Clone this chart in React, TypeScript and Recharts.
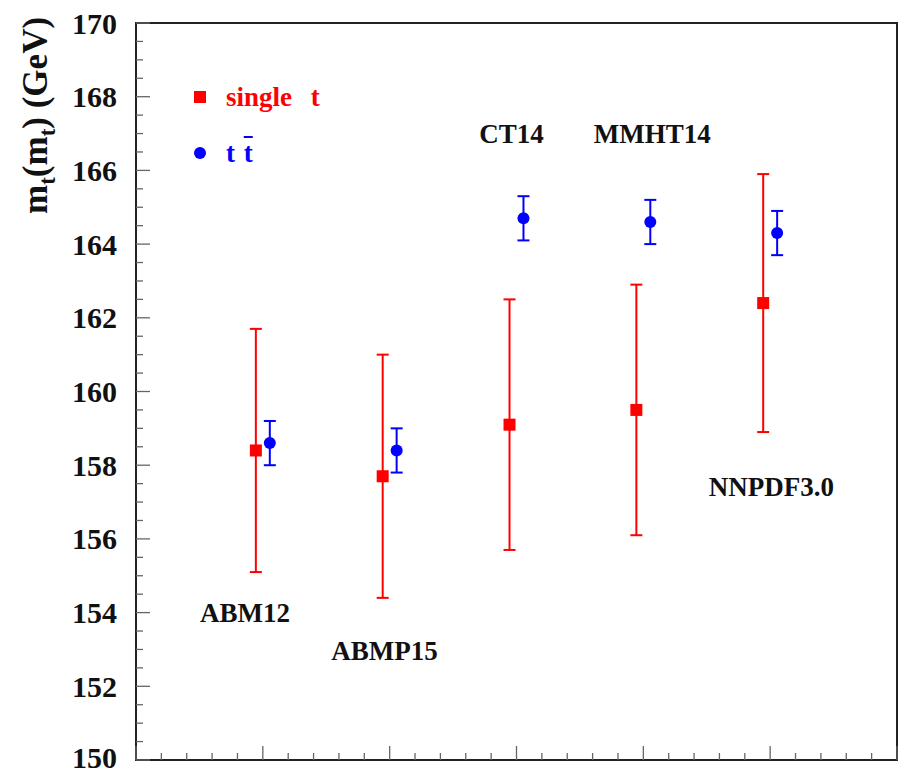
import React from 'react';
import { ComposedChart, Scatter, XAxis, YAxis, ErrorBar, ReferenceArea, Legend } from 'recharts';

const categories = ['ABM12', 'ABMP15', 'CT14', 'MMHT14', 'NNPDF3.0'];
const categoryPos = [1, 2, 3, 4, 5];

const singleTop = [158.4, 157.7, 159.1, 159.5, 162.4];
const singleTopLow = [155.1, 154.4, 155.7, 156.1, 158.9];
const singleTopHigh = [161.7, 161.0, 162.5, 162.9, 165.9];

const ttbar = [158.6, 158.4, 164.7, 164.6, 164.3];
const ttbarLow = [158.0, 157.8, 164.1, 164.0, 163.7];
const ttbarHigh = [159.2, 159.0, 165.3, 165.2, 164.9];

const labelX = [0.86, 1.96, 2.96, 4.07, 5.01];
const labelY = [154.0, 152.95, 167.0, 167.0, 157.4];

const yTicks = Array.from({ length: 41 }, (_, i) => 150 + i / 2);
const xTicks = Array.from({ length: 31 }, (_, i) => i / 5);

const SERIF = '"Liberation Serif", "DejaVu Serif", serif';
const RED = '#ff0000';
const BLUE = '#0000ff';
const OFFSET = 0.055;

const singleData = categories.map((c, i) => ({
  name: c,
  x: categoryPos[i] - OFFSET,
  y: singleTop[i],
  err: [singleTop[i] - singleTopLow[i], singleTopHigh[i] - singleTop[i]],
}));

const ttData = categories.map((c, i) => ({
  name: c,
  x: categoryPos[i] + OFFSET,
  y: ttbar[i],
  err: [ttbar[i] - ttbarLow[i], ttbarHigh[i] - ttbar[i]],
}));

const labelData = categories.map((c, i) => ({ name: c, x: labelX[i], y: labelY[i] }));

const YTick = (props: any) => {
  const { x, y, payload } = props;
  const v = payload.value;
  const major = Math.abs(v % 2) < 1e-6;
  const edgeShift = v === 150 ? -3 : 0;
  return (
    <g>
      <line x1={x} x2={x + (major ? 14 : 7)} y1={y} y2={y} stroke="#666" strokeWidth={1.3} />
      {major && (
        <text
          x={x - 19}
          y={y + edgeShift}
          textAnchor="end"
          dominantBaseline="central"
          fontSize={30}
          fontWeight="bold"
          fontFamily={SERIF}
          fill="#111"
        >
          {v}
        </text>
      )}
    </g>
  );
};

const XTick = (props: any) => {
  const { x, y, payload } = props;
  const v = payload.value;
  const major = Math.abs(v - Math.round(v)) < 1e-6;
  return <line x1={x} x2={x} y1={y} y2={y - (major ? 14 : 7)} stroke="#666" strokeWidth={1.3} />;
};

const YLabel = () => (
  <text
    transform="translate(47, 214) rotate(-90)"
    textAnchor="start"
    fontSize={35}
    fontWeight="bold"
    fontFamily={SERIF}
    fill="#111"
  >
    <tspan>m</tspan>
    <tspan dy={8} fontSize={23}>t</tspan>
    <tspan dy={-8}>(m</tspan>
    <tspan dy={8} fontSize={23}>t</tspan>
    <tspan dy={-8}>) (GeV)</tspan>
  </text>
);

const LegendContent = () => (
  <div style={{ fontFamily: SERIF, fontWeight: 'bold', fontSize: 27, lineHeight: 1 }}>
    <div style={{ display: 'flex', alignItems: 'center', height: 34, color: RED }}>
      <span style={{ display: 'inline-block', width: 12, height: 12, background: RED, marginRight: 20, flexShrink: 0 }} />
      <span style={{ whiteSpace: 'nowrap', wordSpacing: 12 }}>single t</span>
    </div>
    <div style={{ display: 'flex', alignItems: 'center', height: 34, color: BLUE, marginTop: 22 }}>
      <span style={{ display: 'inline-block', width: 12, height: 12, borderRadius: '50%', background: BLUE, marginRight: 20, flexShrink: 0 }} />
      <span style={{ whiteSpace: 'nowrap', wordSpacing: 2 }}>
        t <span style={{ textDecoration: 'overline' }}>t</span>
      </span>
    </div>
  </div>
);

const Square = (p: any) => <rect x={p.cx - 6} y={p.cy - 6} width={12} height={12} fill={RED} />;
const Dot = (p: any) => <circle cx={p.cx} cy={p.cy} r={6} fill={BLUE} />;
const Label = (p: any) => (
  <text
    x={p.cx}
    y={p.cy}
    textAnchor="middle"
    dominantBaseline="central"
    fontSize={27}
    fontWeight="bold"
    fontFamily={SERIF}
    fill="#111"
  >
    {p.payload.name}
  </text>
);

export default function App() {
  return (
    <div style={{ position: 'absolute', left: 0, top: 0, width: 901, height: 773, background: '#fff' }}>
      <ComposedChart width={901} height={773} margin={{ top: 23, right: 4, bottom: 3, left: 0 }}>
        <XAxis
          dataKey="x"
          type="number"
          domain={[0, 6]}
          ticks={xTicks}
          interval={0}
          axisLine={false}
          tickLine={false}
          tickSize={0}
          tickMargin={0}
          height={10}
          tick={<XTick />}
          allowDataOverflow
        />
        <YAxis
          dataKey="y"
          type="number"
          domain={[150, 170]}
          ticks={yTicks}
          interval={0}
          axisLine={false}
          tickLine={false}
          tickSize={0}
          tickMargin={0}
          width={136}
          tick={<YTick />}
          label={{ content: <YLabel /> }}
          allowDataOverflow
        />
        <ReferenceArea x1={0} x2={6} y1={150} y2={170} fill="none" stroke="#222" strokeWidth={2} />
        <Scatter name="single t" data={singleData} dataKey="y" shape={<Square />} isAnimationActive={false}>
          <ErrorBar dataKey="err" direction="y" width={6} stroke={RED} strokeWidth={2} isAnimationActive={false} />
        </Scatter>
        <Scatter name="t t" data={ttData} dataKey="y" shape={<Dot />} isAnimationActive={false}>
          <ErrorBar dataKey="err" direction="y" width={6} stroke={BLUE} strokeWidth={2} isAnimationActive={false} />
        </Scatter>
        <Scatter name="labels" data={labelData} dataKey="y" shape={<Label />} legendType="none" isAnimationActive={false} />
        <Legend
          content={<LegendContent />}
          layout="horizontal"
          verticalAlign="middle"
          align="center"
          wrapperStyle={{ left: 194, top: 80, width: 220 }}
        />
      </ComposedChart>
    </div>
  );
}
